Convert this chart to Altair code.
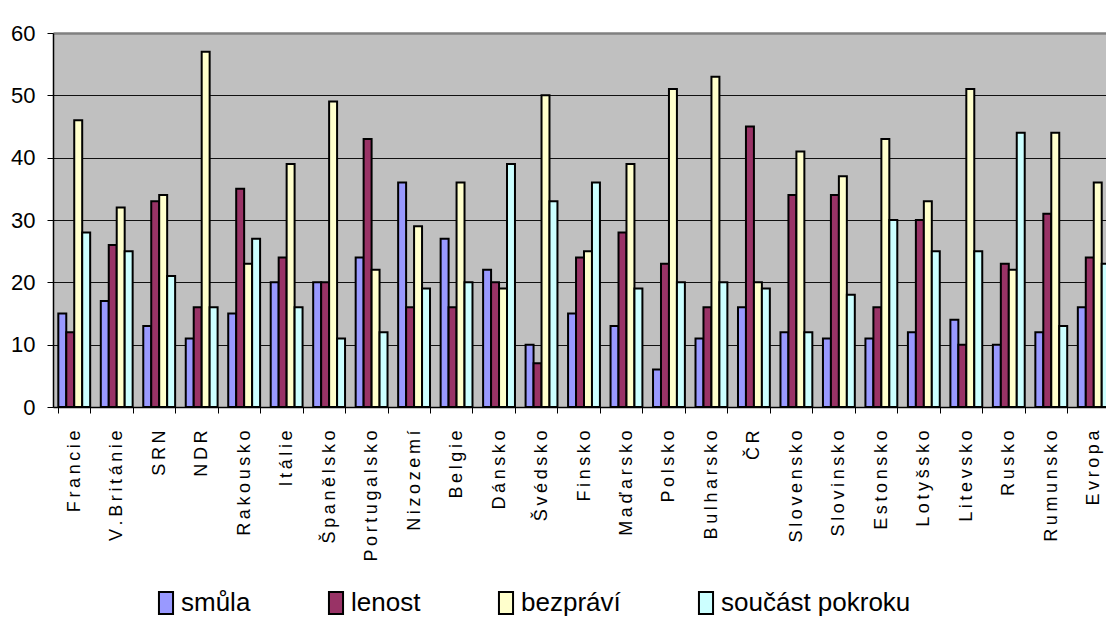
import altair as alt
import pandas as pd

countries = ["Francie", "V.Británie", "SRN", "NDR", "Rakousko", "Itálie", "Španělsko",
             "Portugalsko", "Nizozemí", "Belgie", "Dánsko", "Švédsko", "Finsko", "Maďarsko",
             "Polsko", "Bulharsko", "ČR", "Slovensko", "Slovinsko", "Estonsko", "Lotyšsko",
             "Litevsko", "Rusko", "Rumunsko", "Evropa"]
series = ["smůla", "lenost", "bezpráví", "součást pokroku"]
smula = [15, 17, 13, 11, 15, 20, 20, 24, 36, 27, 22, 10, 15, 13, 6, 11, 16, 12, 11, 11, 12, 14, 10, 12, 16]
lenost = [12, 26, 33, 16, 35, 24, 20, 43, 16, 16, 20, 7, 24, 28, 23, 16, 45, 34, 34, 16, 30, 10, 23, 31, 24]
bezpravi = [46, 32, 34, 57, 23, 39, 49, 22, 29, 36, 19, 50, 25, 39, 51, 53, 20, 41, 37, 43, 33, 51, 22, 44, 36]
soucast = [28, 25, 21, 16, 27, 16, 11, 12, 19, 20, 39, 33, 36, 19, 20, 20, 19, 12, 18, 30, 25, 25, 44, 13, 23]
colors = ["#9999ff", "#993366", "#ffffcc", "#ccffff"]
y_ticks = [0, 10, 20, 30, 40, 50, 60]

rows = []
for name, vals in zip(series, [smula, lenost, bezpravi, soucast]):
    for c, v in zip(countries, vals):
        rows.append({"země": c, "řada": name, "hodnota": v})
df = pd.DataFrame(rows)

font = "Liberation Sans, Arial, sans-serif"

chart = alt.Chart(df).mark_bar(stroke="black", strokeWidth=2, clip=True).encode(
    x=alt.X("země:N", sort=countries, title=None,
            scale=alt.Scale(paddingInner=0.25, paddingOuter=0.125, range=[0, 1062]),
            axis=alt.Axis(labelAngle=-90, labelAlign="right", labelBaseline="middle",
                          tickBand="extent", tickSize=6, tickColor="black", tickWidth=1,
                          domainColor="black", domainWidth=1.5,
                          labelFontSize=18, labelFont=font,
                          labelPadding=17, labelColor="black", grid=False,
                          labelExpr="join(split(datum.label, ''), '\u2009')")),
    xOffset=alt.XOffset("řada:N", sort=series,
                        scale=alt.Scale(paddingInner=0, paddingOuter=0)),
    y=alt.Y("hodnota:Q", scale=alt.Scale(domain=[0, 60], nice=False),
            axis=alt.Axis(values=y_ticks, title=None, tickSize=6, tickColor="black",
                          domainColor="black", domainWidth=1.5,
                          labelPadding=12, labelFontSize=22, labelFont=font,
                          labelColor="black",
                          gridWidth={"condition": {"test": "datum.value == 60", "value": 2.5},
                                     "value": 1},
                          gridColor={"condition": {"test": "datum.value == 60", "value": "#808080"},
                                     "value": "#111111"})),
    color=alt.Color("řada:N", sort=series,
                    scale=alt.Scale(domain=series, range=colors),
                    legend=alt.Legend(title=None, orient="none", legendX=100, legendY=557,
                                      direction="horizontal",
                                      symbolType="M-0.64,-1H0.64V1H-0.64Z",
                                      symbolSize=484, symbolStrokeColor="black",
                                      symbolStrokeWidth=2, symbolOpacity=1,
                                      labelFontSize=26, labelFont=font, labelColor="black",
                                      labelOffset=2, labelLimit=400,
                                      columnPadding=72, padding=0)),
).properties(
    width=1053, height=374,
    autosize=alt.AutoSizeParams(type="none"),
    padding={"top": 25, "left": 45, "right": 0, "bottom": 211},
).configure_view(
    fill="#c0c0c0", strokeWidth=0
)

chart.save("out.html", embed_options={"renderer": "svg", "actions": False})
